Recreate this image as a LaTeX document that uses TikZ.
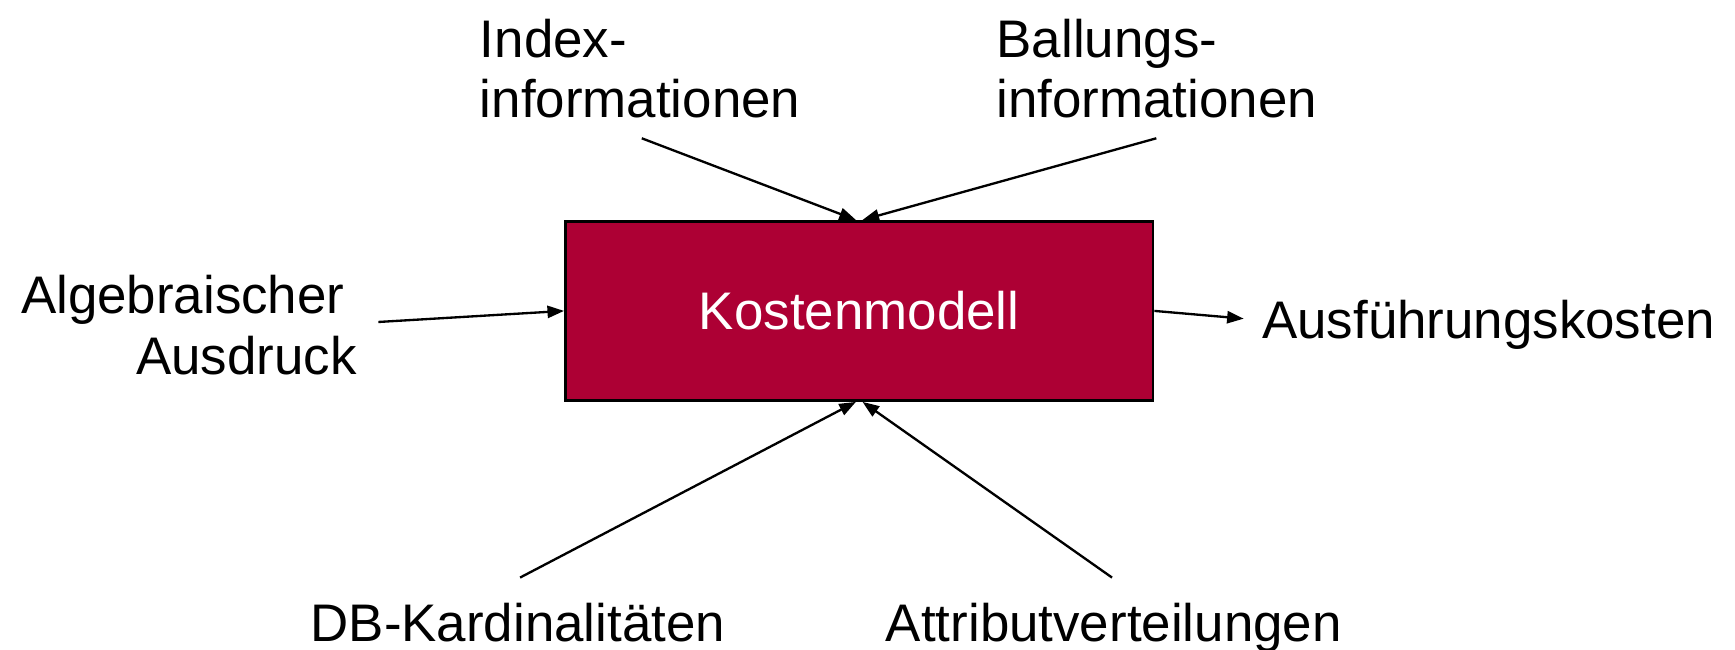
\documentclass[tikz,border=0pt]{standalone}
\usepackage{fontspec}
\setmainfont{Liberation Sans}
\usetikzlibrary{arrows.meta,calc}
\definecolor{km_red}{RGB}{173, 0, 52}
\tikzstyle{box}=[rectangle,fill=km_red,draw=black,line width=0.7pt,
  minimum width=5.31cm,minimum height=1.62cm,text=white,
  font=\fontsize{13.6}{15.6}\selectfont]
\tikzstyle{lbl}=[inner sep=0pt,font=\fontsize{13.6}{15.6}\selectfont]
\tikzstyle{arr}=[-{Triangle[length=1.5mm,width=1.1mm]},line width=0.6pt]

\begin{document}
\begin{tikzpicture}
    \useasboundingbox (0,0) rectangle (15.68,5.87);
    \node [style=box] (model) at (7.765,3.06) {Kostenmodell};
    \node [style=lbl,anchor=west,align=left] (index) at (4.33,5.25) {Index-\\informationen};
    \node [style=lbl,anchor=west,align=left] (ballung) at (9.00,5.25) {Ballungs-\\informationen};
    \node [style=lbl,anchor=east,align=right] (algebra) at (3.23,2.93) {Algebraischer\hspace*{0.11cm}\\Ausdruck};
    \node [style=lbl,anchor=base west] (kosten) at (11.40,2.81) {Ausführungskosten};
    \node [style=lbl,anchor=base west] (card) at (2.80,0.07) {DB-Kardinalitäten};
    \node [style=lbl,anchor=base west] (attr) at (8.00,0.07) {Attributverteilungen};
    \coordinate (indextail) at (5.80,4.62);
    \coordinate (ballungtail) at (10.45,4.62);
    \coordinate (algebratail) at (3.42,2.96);
    \coordinate (kostenhead) at (11.24,2.99);
    \coordinate (cardtail) at (4.70,0.65);
    \coordinate (attrtail) at (10.05,0.65);
    \draw [style=arr] (indextail) to ($(model.north)+(-0.03,0)$);
    \draw [style=arr] (ballungtail) to ($(model.north)+(0.03,0)$);
    \draw [style=arr] (algebratail) to (model.west);
    \draw [style=arr] (model.east) to (kostenhead);
    \draw [style=arr] (cardtail) to ($(model.south)+(-0.03,0)$);
    \draw [style=arr] (attrtail) to ($(model.south)+(0.03,0)$);
  \end{tikzpicture}
\end{document}
